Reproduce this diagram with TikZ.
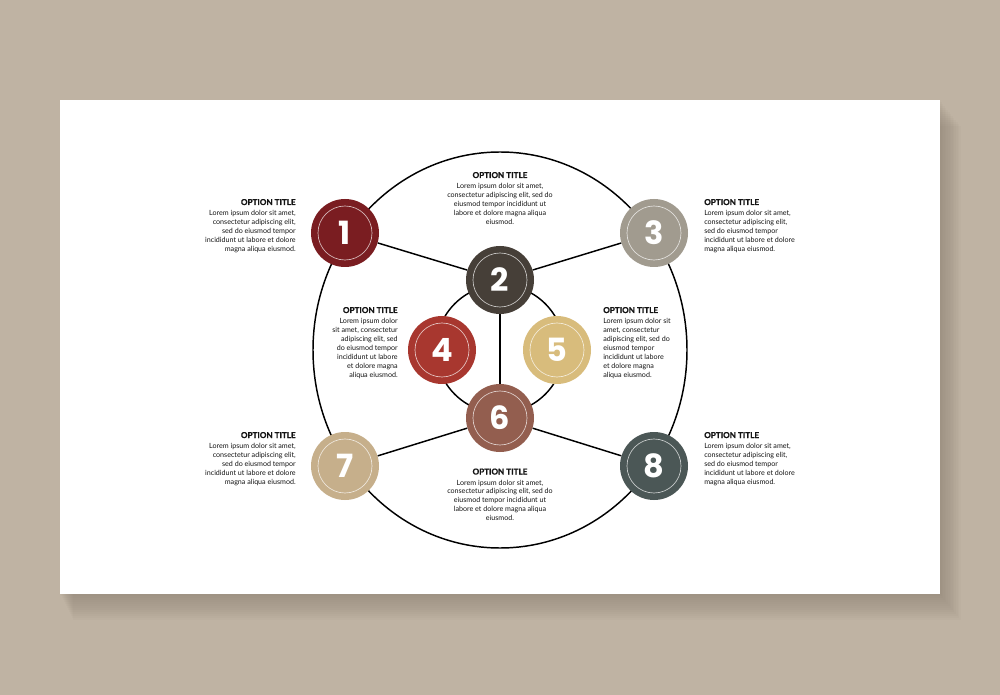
\documentclass[tikz,border=0pt]{standalone}
\usepackage{fontspec}
\setmainfont{Lato}
\newfontfamily\numfont{Poppins}
\newfontfamily\headfont{Lato}[BoldFeatures={FakeBold=1.2}]
\usetikzlibrary{positioning}

\definecolor{bgtaupe}{HTML}{BFB3A3}
\definecolor{shadowc}{HTML}{6E6456}
\definecolor{cone}{HTML}{7A1D21}
\definecolor{ctwo}{HTML}{463F38}
\definecolor{cthree}{HTML}{A19B8F}
\definecolor{cfour}{HTML}{A8372F}
\definecolor{cfive}{HTML}{D8BC7C}
\definecolor{csix}{HTML}{935E4F}
\definecolor{cseven}{HTML}{C6AF8B}
\definecolor{ceight}{HTML}{4B5756}
\definecolor{ink}{HTML}{141414}

\tikzset{
  numdot/.style={circle, minimum size=51pt, inner sep=0pt, text=white,
    font=\numfont\bfseries\fontsize{24}{24}\selectfont,
    path picture={\draw[white, opacity=0.7, line width=0.5pt]
      (path picture bounding box.center) circle (20.25pt);}},
  titletext/.style={font=\headfont\bfseries\fontsize{6.1}{7}\selectfont, inner sep=0pt, text=ink},
  bodytext/.style={font=\fontsize{5.35}{6.7}\selectfont, inner sep=0pt, text=ink},
  link/.style={line width=1.1pt, black},
}

\begin{document}
\begin{tikzpicture}[x=0.75pt,y=0.75pt,yscale=-1,xscale=1]
\useasboundingbox (0,0) rectangle (1000,695);

\fill[bgtaupe] (0,0) rectangle (1000,695);
\foreach \s in {2,4,...,26}
  \fill[shadowc, opacity=0.03] (60+0.5*\s,100+\s) rectangle (940+0.8*\s,594+\s);
\fill[white] (60,100) rectangle (940,594);

\draw[link] (500,350) ellipse [x radius=187, y radius=198];
\draw[link] (500,349) circle [radius=64];

\node[numdot, fill=cone] (n1) at (345,233) {1};
\node[numdot, fill=ctwo] (n2) at (500,280) {2};
\node[numdot, fill=cthree] (n3) at (654,233) {3};
\node[numdot, fill=cfour] (n4) at (442,350) {4};
\node[numdot, fill=cfive] (n5) at (557,350) {5};
\node[numdot, fill=csix] (n6) at (500,418) {6};
\node[numdot, fill=cseven] (n7) at (345,466) {7};
\node[numdot, fill=ceight] (n8) at (654,466) {8};

\draw[link] (n1) -- (n2);
\draw[link] (n2) -- (n3);
\draw[link] (n2) -- (n6);
\draw[link] (n7) -- (n6);
\draw[link] (n6) -- (n8);

\node[titletext, anchor=base east] (t1) at (296,205) {OPTION TITLE};
\node[bodytext, align=right, below left=3.5pt and 0pt of t1.south east] (b1)
  {Lorem ipsum dolor sit amet,\\ consectetur adipiscing elit,\\ sed do eiusmod tempor\\ incididunt ut labore et dolore\\ magna aliqua eiusmod.};

\node[titletext, anchor=base] (t2) at (500,178) {OPTION TITLE};
\node[bodytext, align=center, below=3.5pt of t2.south] (b2)
  {Lorem ipsum dolor sit amet,\\ consectetur adipiscing elit, sed do\\ eiusmod tempor incididunt ut\\ labore et dolore magna aliqua\\ eiusmod.};

\node[titletext, anchor=base west] (t3) at (704,205) {OPTION TITLE};
\node[bodytext, align=left, below right=3.5pt and 0pt of t3.south west] (b3)
  {Lorem ipsum dolor sit amet,\\ consectetur adipiscing elit,\\ sed do eiusmod tempor\\ incididunt ut labore et dolore\\ magna aliqua eiusmod.};

\node[titletext, anchor=base east] (t4) at (398,313) {OPTION TITLE};
\node[bodytext, align=right, below left=3.5pt and 0pt of t4.south east] (b4)
  {Lorem ipsum dolor\\ sit amet, consectetur\\ adipiscing elit, sed\\ do eiusmod tempor\\ incididunt ut labore\\ et dolore magna\\ aliqua eiusmod.};

\node[titletext, anchor=base west] (t5) at (603,313) {OPTION TITLE};
\node[bodytext, align=left, below right=3.5pt and 0pt of t5.south west] (b5)
  {Lorem ipsum dolor sit\\ amet, consectetur\\ adipiscing elit, sed do\\ eiusmod tempor\\ incididunt ut labore\\ et dolore magna\\ aliqua eiusmod.};

\node[titletext, anchor=base east] (t7) at (296,438) {OPTION TITLE};
\node[bodytext, align=right, below left=3.5pt and 0pt of t7.south east] (b7)
  {Lorem ipsum dolor sit amet,\\ consectetur adipiscing elit,\\ sed do eiusmod tempor\\ incididunt ut labore et dolore\\ magna aliqua eiusmod.};

\node[titletext, anchor=base] (t6) at (500,474.5) {OPTION TITLE};
\node[bodytext, align=center, below=3.5pt of t6.south] (b6)
  {Lorem ipsum dolor sit amet,\\ consectetur adipiscing elit, sed do\\ eiusmod tempor incididunt ut\\ labore et dolore magna aliqua\\ eiusmod.};

\node[titletext, anchor=base west] (t8) at (704,438) {OPTION TITLE};
\node[bodytext, align=left, below right=3.5pt and 0pt of t8.south west] (b8)
  {Lorem ipsum dolor sit amet,\\ consectetur adipiscing elit,\\ sed do eiusmod tempor\\ incididunt ut labore et dolore\\ magna aliqua eiusmod.};

\end{tikzpicture}
\end{document}
